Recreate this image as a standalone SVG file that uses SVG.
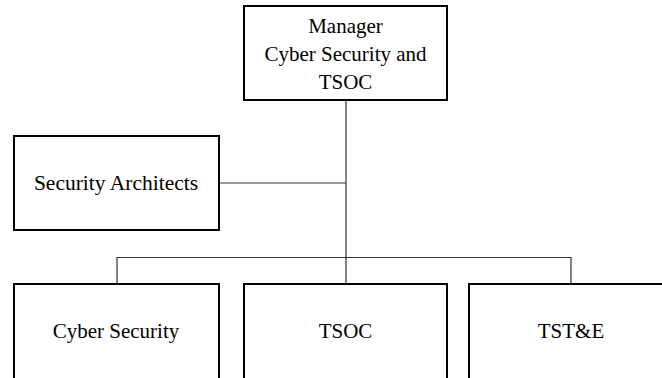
<svg xmlns="http://www.w3.org/2000/svg" width="662" height="378" viewBox="0 0 662 378">
<style>
.box{fill:#fff;stroke:#000;stroke-width:2}
.lbl{font-family:"Liberation Serif","Times New Roman",serif;font-size:21px;fill:#000;text-anchor:middle}
.con{fill:none;stroke:#333;stroke-width:1.2}
</style>
<rect width="662" height="378" fill="#fff"/>
<g id="connectors">
<line class="con" x1="346" y1="100" x2="346" y2="283"/>
<line class="con" x1="219" y1="183" x2="346" y2="183"/>
<polyline class="con" points="117,283 117,257.5 571,257.5 571,283"/>
</g>
<g id="manager">
<rect class="box" x="244" y="6" width="203" height="94"/>
<text class="lbl" x="345.5" y="33">Manager</text>
<text class="lbl" x="345.5" y="61">Cyber Security and</text>
<text class="lbl" x="345.5" y="89">TSOC</text>
</g>
<g id="security-architects">
<rect class="box" x="14" y="136" width="205" height="94"/>
<text class="lbl" x="116" y="190" style="font-size:21.5px">Security Architects</text>
</g>
<g id="cyber-security">
<rect class="box" x="14" y="284" width="205" height="110"/>
<text class="lbl" x="116" y="338">Cyber Security</text>
</g>
<g id="tsoc">
<rect class="box" x="244" y="284" width="203" height="110"/>
<text class="lbl" x="345.5" y="338">TSOC</text>
</g>
<g id="tste">
<rect class="box" x="469" y="284" width="205" height="110"/>
<text class="lbl" x="571" y="338">TST&amp;E</text>
</g>
</svg>
